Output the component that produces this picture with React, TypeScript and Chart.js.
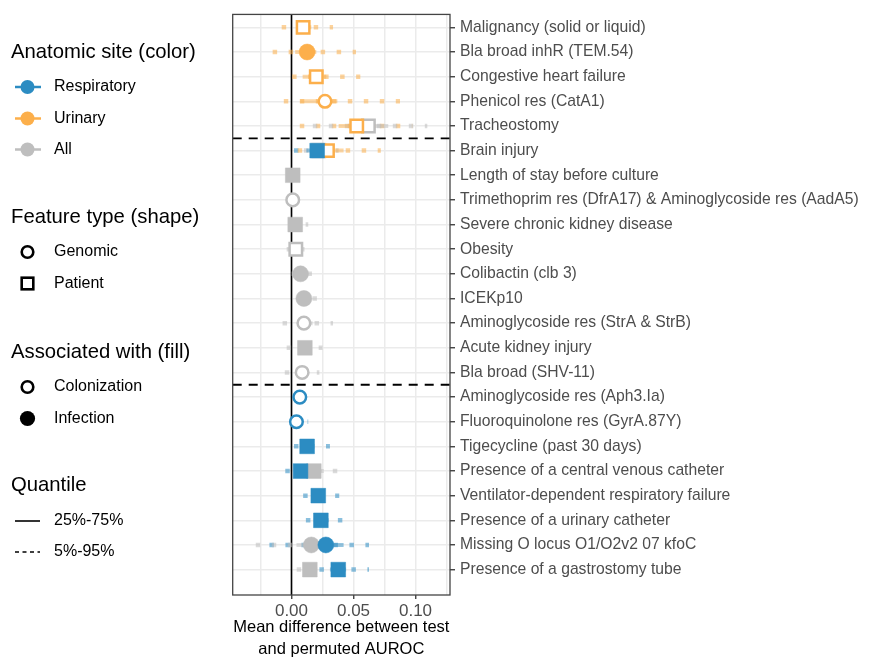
import React, { useEffect, useRef } from "react";
import { Chart, registerables } from "chart.js";

Chart.register(...registerables);

// ---------------- DATA ----------------
const categories = [
  "Malignancy (solid or liquid)",
  "Bla broad inhR (TEM.54)",
  "Congestive heart failure",
  "Phenicol res (CatA1)",
  "Tracheostomy",
  "Brain injury",
  "Length of stay before culture",
  "Trimethoprim res (DfrA17) & Aminoglycoside res (AadA5)",
  "Severe chronic kidney disease",
  "Obesity",
  "Colibactin (clb 3)",
  "ICEKp10",
  "Aminoglycoside res (StrA & StrB)",
  "Acute kidney injury",
  "Bla broad (SHV-11)",
  "Aminoglycoside res (Aph3.Ia)",
  "Fluoroquinolone res (GyrA.87Y)",
  "Tigecycline (past 30 days)",
  "Presence of a central venous catheter",
  "Ventilator-dependent respiratory failure",
  "Presence of a urinary catheter",
  "Missing O locus O1/O2v2 07 kfoC",
  "Presence of a gastrostomy tube",
];

const genomicFeatures = [
  "Bla broad inhR (TEM.54)",
  "Phenicol res (CatA1)",
  "Trimethoprim res (DfrA17) & Aminoglycoside res (AadA5)",
  "Colibactin (clb 3)",
  "ICEKp10",
  "Aminoglycoside res (StrA & StrB)",
  "Bla broad (SHV-11)",
  "Aminoglycoside res (Aph3.Ia)",
  "Fluoroquinolone res (GyrA.87Y)",
  "Missing O locus O1/O2v2 07 kfoC",
];

// last feature of each group (dashed separator drawn below it)
const groupEnds = ["Tracheostomy", "Bla broad (SHV-11)"];

const xTickValues = [0, 0.05, 0.1];
const xTickLabels = ["0.00", "0.05", "0.10"];
const xMinorValues = [-0.025, 0.025, 0.075, 0.125];

// Respiratory
const respFeatures = [
  "Brain injury",
  "Aminoglycoside res (Aph3.Ia)",
  "Fluoroquinolone res (GyrA.87Y)",
  "Tigecycline (past 30 days)",
  "Presence of a central venous catheter",
  "Ventilator-dependent respiratory failure",
  "Presence of a urinary catheter",
  "Missing O locus O1/O2v2 07 kfoC",
  "Presence of a gastrostomy tube",
];
const respMean = [0.0207, 0.0067, 0.004, 0.0126, 0.0073, 0.0216, 0.0237, 0.0277, 0.0377];
const respQ05 = [0.002, 0.001, 0.0, 0.002, -0.005, 0.0094, 0.0116, -0.0178, 0.0225];
const respQ25 = [0.012, 0.003, 0.001, 0.007, 0.002, 0.016, 0.018, 0.01, 0.031];
const respQ75 = [0.028, 0.011, 0.008, 0.018, 0.013, 0.027, 0.03, 0.042, 0.044];
const respQ95 = [0.033, 0.0125, 0.0135, 0.031, 0.021, 0.0385, 0.041, 0.0625, 0.0625];
const respAssoc = ["Infection", "Colonization", "Colonization", "Infection", "Infection", "Infection", "Infection", "Infection", "Infection"];

// Urinary
const uriFeatures = [
  "Malignancy (solid or liquid)",
  "Bla broad inhR (TEM.54)",
  "Congestive heart failure",
  "Phenicol res (CatA1)",
  "Tracheostomy",
  "Brain injury",
];
const uriMean = [0.0094, 0.0126, 0.02, 0.027, 0.0526, 0.029];
const uriQ05 = [-0.0079, -0.0152, 0.0005, -0.0062, 0.0067, 0.005];
const uriQ25 = [0.004, 0.003, 0.009, 0.007, 0.038, 0.018];
const uriQ75 = [0.016, 0.02, 0.028, 0.037, 0.068, 0.042];
const uriQ95 = [0.0335, 0.052, 0.0555, 0.0875, 0.0975, 0.072];
const uriAssoc = ["Colonization", "Infection", "Colonization", "Colonization", "Colonization", "Colonization"];

// All
const allFeatures = [
  "Tracheostomy",
  "Brain injury",
  "Length of stay before culture",
  "Trimethoprim res (DfrA17) & Aminoglycoside res (AadA5)",
  "Severe chronic kidney disease",
  "Obesity",
  "Colibactin (clb 3)",
  "ICEKp10",
  "Aminoglycoside res (StrA & StrB)",
  "Acute kidney injury",
  "Bla broad (SHV-11)",
  "Presence of a central venous catheter",
  "Missing O locus O1/O2v2 07 kfoC",
  "Presence of a gastrostomy tube",
];
const allMean = [0.062, 0.022, 0.001, 0.001, 0.003, 0.0035, 0.0073, 0.01, 0.01, 0.0108, 0.0086, 0.018, 0.016, 0.0148];
const allQ05 = [0.0172, 0.01, -0.003, -0.0025, -0.0015, -0.0039, 0.0, 0.004, -0.0072, -0.0039, -0.0054, 0.0075, -0.0288, 0.0042];
const allQ25 = [0.05, 0.015, -0.001, -0.0005, 0.0, 0.0, 0.004, 0.007, 0.005, 0.006, 0.004, 0.013, 0.004, 0.01];
const allQ75 = [0.078, 0.03, 0.003, 0.0025, 0.006, 0.007, 0.011, 0.014, 0.017, 0.016, 0.013, 0.026, 0.028, 0.02];
const allQ95 = [0.1095, 0.038, 0.005, 0.0045, 0.0135, 0.0105, 0.0165, 0.0205, 0.0335, 0.025, 0.0225, 0.037, 0.034, 0.0235];
const allAssoc = ["Colonization", "Infection", "Infection", "Colonization", "Infection", "Colonization", "Infection", "Infection", "Colonization", "Infection", "Colonization", "Infection", "Infection", "Infection"];

// ---------------- STYLE ----------------
const BLUE = "#2C8CC2";
const ORANGE = "#FCAF4B";
const GREY = "#BEBEBE";
const FONT = '"Liberation Sans", Arial, Helvetica, sans-serif';

function rgba(hex: string, a: number) {
  const n = parseInt(hex.slice(1), 16);
  return `rgba(${(n >> 16) & 255},${(n >> 8) & 255},${n & 255},${a})`;
}

type Site = {
  color: string;
  features: string[];
  mean: number[];
  q05: number[];
  q25: number[];
  q75: number[];
  q95: number[];
  assoc: string[];
  order: number;
};

const sites: Site[] = [
  { color: GREY, features: allFeatures, mean: allMean, q05: allQ05, q25: allQ25, q75: allQ75, q95: allQ95, assoc: allAssoc, order: 3 },
  { color: ORANGE, features: uriFeatures, mean: uriMean, q05: uriQ05, q25: uriQ25, q75: uriQ75, q95: uriQ95, assoc: uriAssoc, order: 2 },
  { color: BLUE, features: respFeatures, mean: respMean, q05: respQ05, q25: respQ25, q75: respQ75, q95: respQ95, assoc: respAssoc, order: 1 },
];

function rowOf(f: string) {
  return categories.indexOf(f) + 1;
}

function buildDatasets() {
  const ds: any[] = [];
  for (const s of sites) {
    s.features.forEach((f, i) => {
      const row = rowOf(f);
      ds.push({
        type: "scatter",
        data: [
          { x: s.q05[i], y: row },
          { x: s.q95[i], y: row },
        ],
        showLine: true,
        borderColor: rgba(s.color, 0.55),
        borderWidth: 4.5,
        borderDash: [4.5, 11.5],
        borderCapStyle: "butt",
        pointRadius: 0,
        fill: false,
        order: 20,
      });
      ds.push({
        type: "scatter",
        data: [
          { x: s.q25[i], y: row },
          { x: s.q75[i], y: row },
        ],
        showLine: true,
        borderColor: rgba(s.color, 0.5),
        borderWidth: 4,
        borderCapStyle: "butt",
        pointRadius: 0,
        fill: false,
        order: 19,
      });
    });
    const gen = s.features.map((f) => genomicFeatures.includes(f));
    const inf = s.assoc.map((a) => a === "Infection");
    ds.push({
      type: "scatter",
      data: s.features.map((f, i) => ({ x: s.mean[i], y: rowOf(f) })),
      showLine: false,
      pointStyle: gen.map((g) => (g ? "circle" : "rect")),
      pointRadius: gen.map((g, i) => (g ? (inf[i] ? 8 : 6.3) : inf[i] ? 10.4 : 8.8)),
      pointBackgroundColor: inf.map((v) => (v ? s.color : "#FFFFFF")),
      pointBorderColor: s.color,
      pointBorderWidth: inf.map((v) => (v ? 0.5 : 2.5)),
      order: s.order,
    });
  }
  return ds;
}

const decor = {
  id: "decor",
  beforeDatasetsDraw(chart: any) {
    const { ctx, chartArea: a, scales } = chart;
    const x = scales.x;
    const y = scales.y;
    ctx.save();
    const x0 = x.getPixelForValue(0);
    ctx.strokeStyle = "#000";
    ctx.lineWidth = 1.6;
    ctx.beginPath();
    ctx.moveTo(x0, a.top);
    ctx.lineTo(x0, a.bottom);
    ctx.stroke();
    ctx.setLineDash([9, 7]);
    ctx.lineWidth = 1.8;
    for (const g of groupEnds) {
      const py = y.getPixelForValue(rowOf(g) + 0.5);
      ctx.beginPath();
      ctx.moveTo(a.left, py);
      ctx.lineTo(a.right, py);
      ctx.stroke();
    }
    ctx.restore();
  },
  afterDraw(chart: any) {
    const { ctx, chartArea: a } = chart;
    ctx.save();
    // panel border
    ctx.strokeStyle = "#444";
    ctx.lineWidth = 1.3;
    ctx.strokeRect(a.left, a.top, a.right - a.left, a.bottom - a.top);

    // x title
    ctx.fillStyle = "#000";
    ctx.textAlign = "center";
    ctx.textBaseline = "middle";
    ctx.font = `16.5px ${FONT}`;
    const cx = (a.left + a.right) / 2;
    ctx.fillText("Mean difference between test", cx, 627);
    ctx.fillText("and permuted AUROC", cx, 649);

    // legend
    ctx.textAlign = "left";
    const title = (t: string, yy: number) => {
      ctx.font = `20.3px ${FONT}`;
      ctx.fillStyle = "#000";
      ctx.fillText(t, 11, yy);
    };
    const item = (t: string, yy: number) => {
      ctx.font = `16px ${FONT}`;
      ctx.fillStyle = "#000";
      ctx.fillText(t, 54, yy);
    };
    const kx = 27.5;

    title("Anatomic site (color)", 52);
    const siteKeys: [string, string, number][] = [
      ["Respiratory", BLUE, 87],
      ["Urinary", ORANGE, 118.5],
      ["All", GREY, 149.5],
    ];
    for (const [t, c, yy] of siteKeys) {
      ctx.strokeStyle = c;
      ctx.lineWidth = 2.5;
      ctx.beginPath();
      ctx.moveTo(15, yy);
      ctx.lineTo(41, yy);
      ctx.stroke();
      ctx.fillStyle = c;
      ctx.beginPath();
      ctx.arc(kx, yy, 7, 0, Math.PI * 2);
      ctx.fill();
      item(t, yy);
    }

    title("Feature type (shape)", 217.5);
    ctx.strokeStyle = "#000";
    ctx.lineWidth = 2.6;
    ctx.beginPath();
    ctx.arc(kx, 252, 5.8, 0, Math.PI * 2);
    ctx.stroke();
    item("Genomic", 252);
    ctx.strokeRect(kx - 5.8, 283.5 - 5.8, 11.6, 11.6);
    item("Patient", 283.5);

    title("Associated with (fill)", 352);
    ctx.beginPath();
    ctx.arc(kx, 387, 5.8, 0, Math.PI * 2);
    ctx.stroke();
    item("Colonization", 387);
    ctx.fillStyle = "#000";
    ctx.beginPath();
    ctx.arc(kx, 418.5, 7.6, 0, Math.PI * 2);
    ctx.fill();
    item("Infection", 418.5);

    title("Quantile", 485.5);
    ctx.strokeStyle = "#000";
    ctx.lineWidth = 1.6;
    ctx.beginPath();
    ctx.moveTo(15, 521);
    ctx.lineTo(40, 521);
    ctx.stroke();
    item("25%-75%", 521);
    ctx.setLineDash([4, 3.5]);
    ctx.beginPath();
    ctx.moveTo(15, 552);
    ctx.lineTo(40, 552);
    ctx.stroke();
    ctx.setLineDash([]);
    item("5%-95%", 552);

    ctx.restore();
  },
};

export default function App() {
  const ref = useRef<HTMLCanvasElement>(null);
  useEffect(() => {
    if (!ref.current) return;
    Chart.defaults.font.family = FONT;
    const chart = new Chart(ref.current, {
      type: "scatter",
      data: { datasets: buildDatasets() },
      options: {
        animation: false,
        responsive: false,
        maintainAspectRatio: false,
        events: [],
        layout: { padding: { left: 232.7, top: 12.7, right: 0, bottom: 0 } },
        plugins: { legend: { display: false }, tooltip: { enabled: false } },
        scales: {
          x: {
            type: "linear",
            position: "bottom",
            min: -0.0474,
            max: 0.1278,
            afterBuildTicks: (s: any) => {
              s.ticks = [...xMinorValues, ...xTickValues].sort((p, q) => p - q).map((v) => ({ value: v }));
            },
            afterFit: (s: any) => {
              s.height = 660 - 595;
            },
            ticks: {
              autoSkip: false,
              maxRotation: 0,
              padding: 2,
              color: "#4D4D4D",
              font: { size: 17, family: FONT },
              callback: (v: any) => {
                const k = xTickValues.findIndex((t) => Math.abs(t - v) < 1e-9);
                return k >= 0 ? xTickLabels[k] : "";
              },
            },
            grid: {
              color: "#EBEBEB",
              lineWidth: 1.5,
              tickLength: 4,
              tickWidth: 1.3,
              tickColor: (c: any) =>
                c.tick && xTickValues.some((t) => Math.abs(t - c.tick.value) < 1e-9) ? "#333" : "rgba(0,0,0,0)",
            },
            border: { display: false },
          },
          y: {
            type: "linear",
            position: "right",
            reverse: true,
            min: 0.475,
            max: 24.03,
            afterBuildTicks: (s: any) => {
              s.ticks = categories.map((_, i) => ({ value: i + 1 }));
            },
            afterFit: (s: any) => {
              s.width = 877 - 450;
            },
            ticks: {
              autoSkip: false,
              padding: 5,
              color: "#4D4D4D",
              font: { size: 15.7, family: FONT },
              callback: (v: any) => categories[Math.round(v) - 1] ?? "",
            },
            grid: {
              color: "#EBEBEB",
              lineWidth: 1.5,
              tickLength: 5,
              tickWidth: 1.3,
              tickColor: "#333",
            },
            border: { display: false },
          },
        },
      },
      plugins: [decor],
    } as any);
    return () => chart.destroy();
  }, []);
  return (
    <div style={{ position: "absolute", left: 0, top: 0, width: 877, height: 660, background: "#fff" }}>
      <canvas ref={ref} width={877} height={660} style={{ display: "block", width: 877, height: 660 }} />
    </div>
  );
}
